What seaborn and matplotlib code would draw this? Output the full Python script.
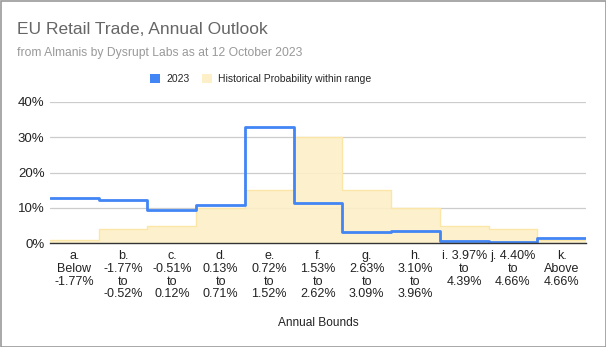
import matplotlib
matplotlib.use("Agg")
import matplotlib.pyplot as plt
import seaborn as sns
import pandas as pd
import numpy as np
from matplotlib.patches import Rectangle, Patch

categories = ["a.\nBelow\n-1.77%", "b.\n-1.77%\nto\n-0.52%", "c.\n-0.51%\nto\n0.12%",
              "d.\n0.13%\nto\n0.71%", "e.\n0.72%\nto\n1.52%", "f.\n1.53%\nto\n2.62%",
              "g.\n2.63%\nto\n3.09%", "h.\n3.10%\nto\n3.96%", "i. 3.97%\nto\n4.39%",
              "j. 4.40%\nto\n4.66%", "k.\nAbove\n4.66%"]
forecast_2023 = [12.9, 12.2, 9.4, 10.9, 32.8, 11.5, 3.2, 3.5, 0.7, 0.4, 1.6]
historical = [1, 4, 5, 10, 15, 30, 15, 10, 5, 4, 1]
yticks = [0, 10, 20, 30, 40]

sns.set_style("white")
plt.rcParams['font.family'] = ['Liberation Sans', 'DejaVu Sans']

n = len(categories)
x = np.arange(n + 1)
df = pd.DataFrame({"x": x,
                   "y2023": forecast_2023 + [forecast_2023[-1]],
                   "hist": historical + [historical[-1]]})

fig = plt.figure(figsize=(6.06, 3.47), dpi=100)
ax = fig.add_axes([50/606, 1 - 243.3/347, 536/606, (243.3-102)/347])

ax.fill_between(df["x"], df["hist"], step="post", color="#fdf0c8", alpha=0.9, lw=0)
ax.step(df["x"], df["hist"], where="post", color="#fbe6a8", lw=1.0)
sns.lineplot(data=df, x="x", y="y2023", ax=ax, drawstyle="steps-post",
             color="#4285f4", lw=2.0)

ax.set_xlim(0, n)
ax.set_ylim(0, 40)
ax.set_yticks(yticks)
ax.set_yticklabels([f"{v}%" for v in yticks], fontsize=9.5, color="#222222")
ax.yaxis.grid(True, color="#cccccc", lw=0.9)
ax.set_axisbelow(True)
ax.set_xticks(np.arange(n) + 0.5)
ax.set_xticklabels(categories, fontsize=9, color="#222222", linespacing=1.08, va="top")
ax.tick_params(axis="both", length=0, pad=4)
ax.tick_params(axis="x", pad=5)
for s in ["left", "right", "top"]:
    ax.spines[s].set_visible(False)
ax.spines["bottom"].set_color("#333333")
ax.spines["bottom"].set_linewidth(1.0)
ax.set_xlabel("")
ax.set_ylabel("")

fig.text(318/606, 1 - 323/347, "Annual Bounds", ha="center", va="center", fontsize=8.6, color="#222222")
fig.text(17/606, 1 - 29/347, "EU Retail Trade, Annual Outlook", fontsize=12.5, color="#666666", va="center")
fig.text(17/606, 1 - 53/347, "from Almanis by Dysrupt Labs as at 12 October 2023", fontsize=8.7,
         color="#999999", va="center")

handles = [Patch(facecolor="#4285f4", edgecolor="none"), Patch(facecolor="#fdf0c8", edgecolor="none")]
leg = fig.legend(handles, ["2023", "Historical Probability within range"], loc="center",
                 bbox_to_anchor=(261/606, 1 - 79/347), ncol=2, frameon=False, fontsize=7.5,
                 handlelength=0.95, handleheight=0.95, handletextpad=0.6, columnspacing=1.2)

fig.patches.append(Rectangle((0.5/606, 0.5/347), 1 - 1/606, 1 - 1/347, transform=fig.transFigure,
                             fill=False, edgecolor="#999999", lw=1.2))
fig.savefig("out.png", dpi=100)
